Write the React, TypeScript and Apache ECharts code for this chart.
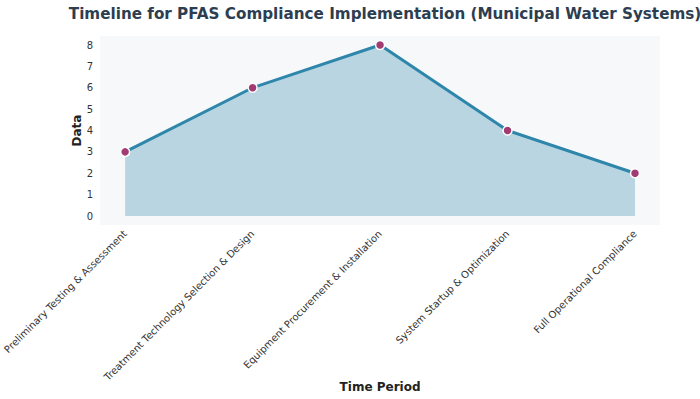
import React, { useEffect, useRef } from "react";
import * as echarts from "echarts";

const categories = [
  "Preliminary Testing & Assessment",
  "Treatment Technology Selection & Design",
  "Equipment Procurement & Installation",
  "System Startup & Optimization",
  "Full Operational Compliance",
];
const values = [3, 6, 8, 4, 2];
const yTicks = [0, 1, 2, 3, 4, 5, 6, 7, 8];

export default function App() {
  const ref = useRef<HTMLDivElement>(null);
  useEffect(() => {
    if (!ref.current) return;
    const chart = echarts.init(ref.current, null, { renderer: "svg" });
    const font = "DejaVu Sans";
    chart.setOption({
      animation: false,
      backgroundColor: "#ffffff",
      textStyle: { fontFamily: font },
      title: {
        text: "Timeline for PFAS Compliance Implementation (Municipal Water Systems)",
        left: 380,
        textAlign: "center",
        top: 1,
        textStyle: { fontFamily: font, fontSize: 15.2, fontWeight: "bold", color: "#2c3e50" },
      },
      graphic: [
        {
          type: "rect",
          z: -10,
          shape: { x: 100, y: 36, width: 560, height: 189 },
          style: { fill: "#f7f8fa" },
          silent: true,
        },
      ],
      grid: { left: 124, right: 65, top: 45, bottom: 183, containLabel: false },
      xAxis: {
        type: "category",
        data: categories,
        boundaryGap: false,
        axisLine: { show: false },
        axisTick: { show: false },
        axisLabel: { rotate: 45, fontSize: 10, color: "#333", margin: 16, interval: 0, fontFamily: font },
        name: "Time Period",
        nameLocation: "middle",
        nameGap: 165,
        nameMoveOverlap: false,
        nameTextStyle: { fontSize: 12, fontWeight: "bold", color: "#222", fontFamily: font },
      },
      yAxis: {
        type: "value",
        min: yTicks[0],
        max: yTicks[yTicks.length - 1],
        interval: 1,
        axisLine: { show: false },
        axisTick: { show: false },
        splitLine: { show: false },
        axisLabel: { fontSize: 10, color: "#333", margin: 32, fontFamily: font },
        name: "Data",
        nameLocation: "middle",
        nameGap: 42,
        nameMoveOverlap: false,
        nameTextStyle: { fontSize: 12, fontWeight: "bold", color: "#222", fontFamily: font },
      },
      series: [
        {
          type: "line",
          data: values,
          lineStyle: { color: "#2e86ab", width: 3 },
          areaStyle: { color: "#2e86ab", opacity: 0.3 },
          symbol: "circle",
          symbolSize: 9,
          itemStyle: { color: "#a23b72", borderColor: "#ffffff", borderWidth: 1.5 },
          z: 5,
        },
      ],
    });
    return () => chart.dispose();
  }, []);
  return <div ref={ref} style={{ width: 700, height: 399, position: "absolute", left: 0, top: 0 }} />;
}
